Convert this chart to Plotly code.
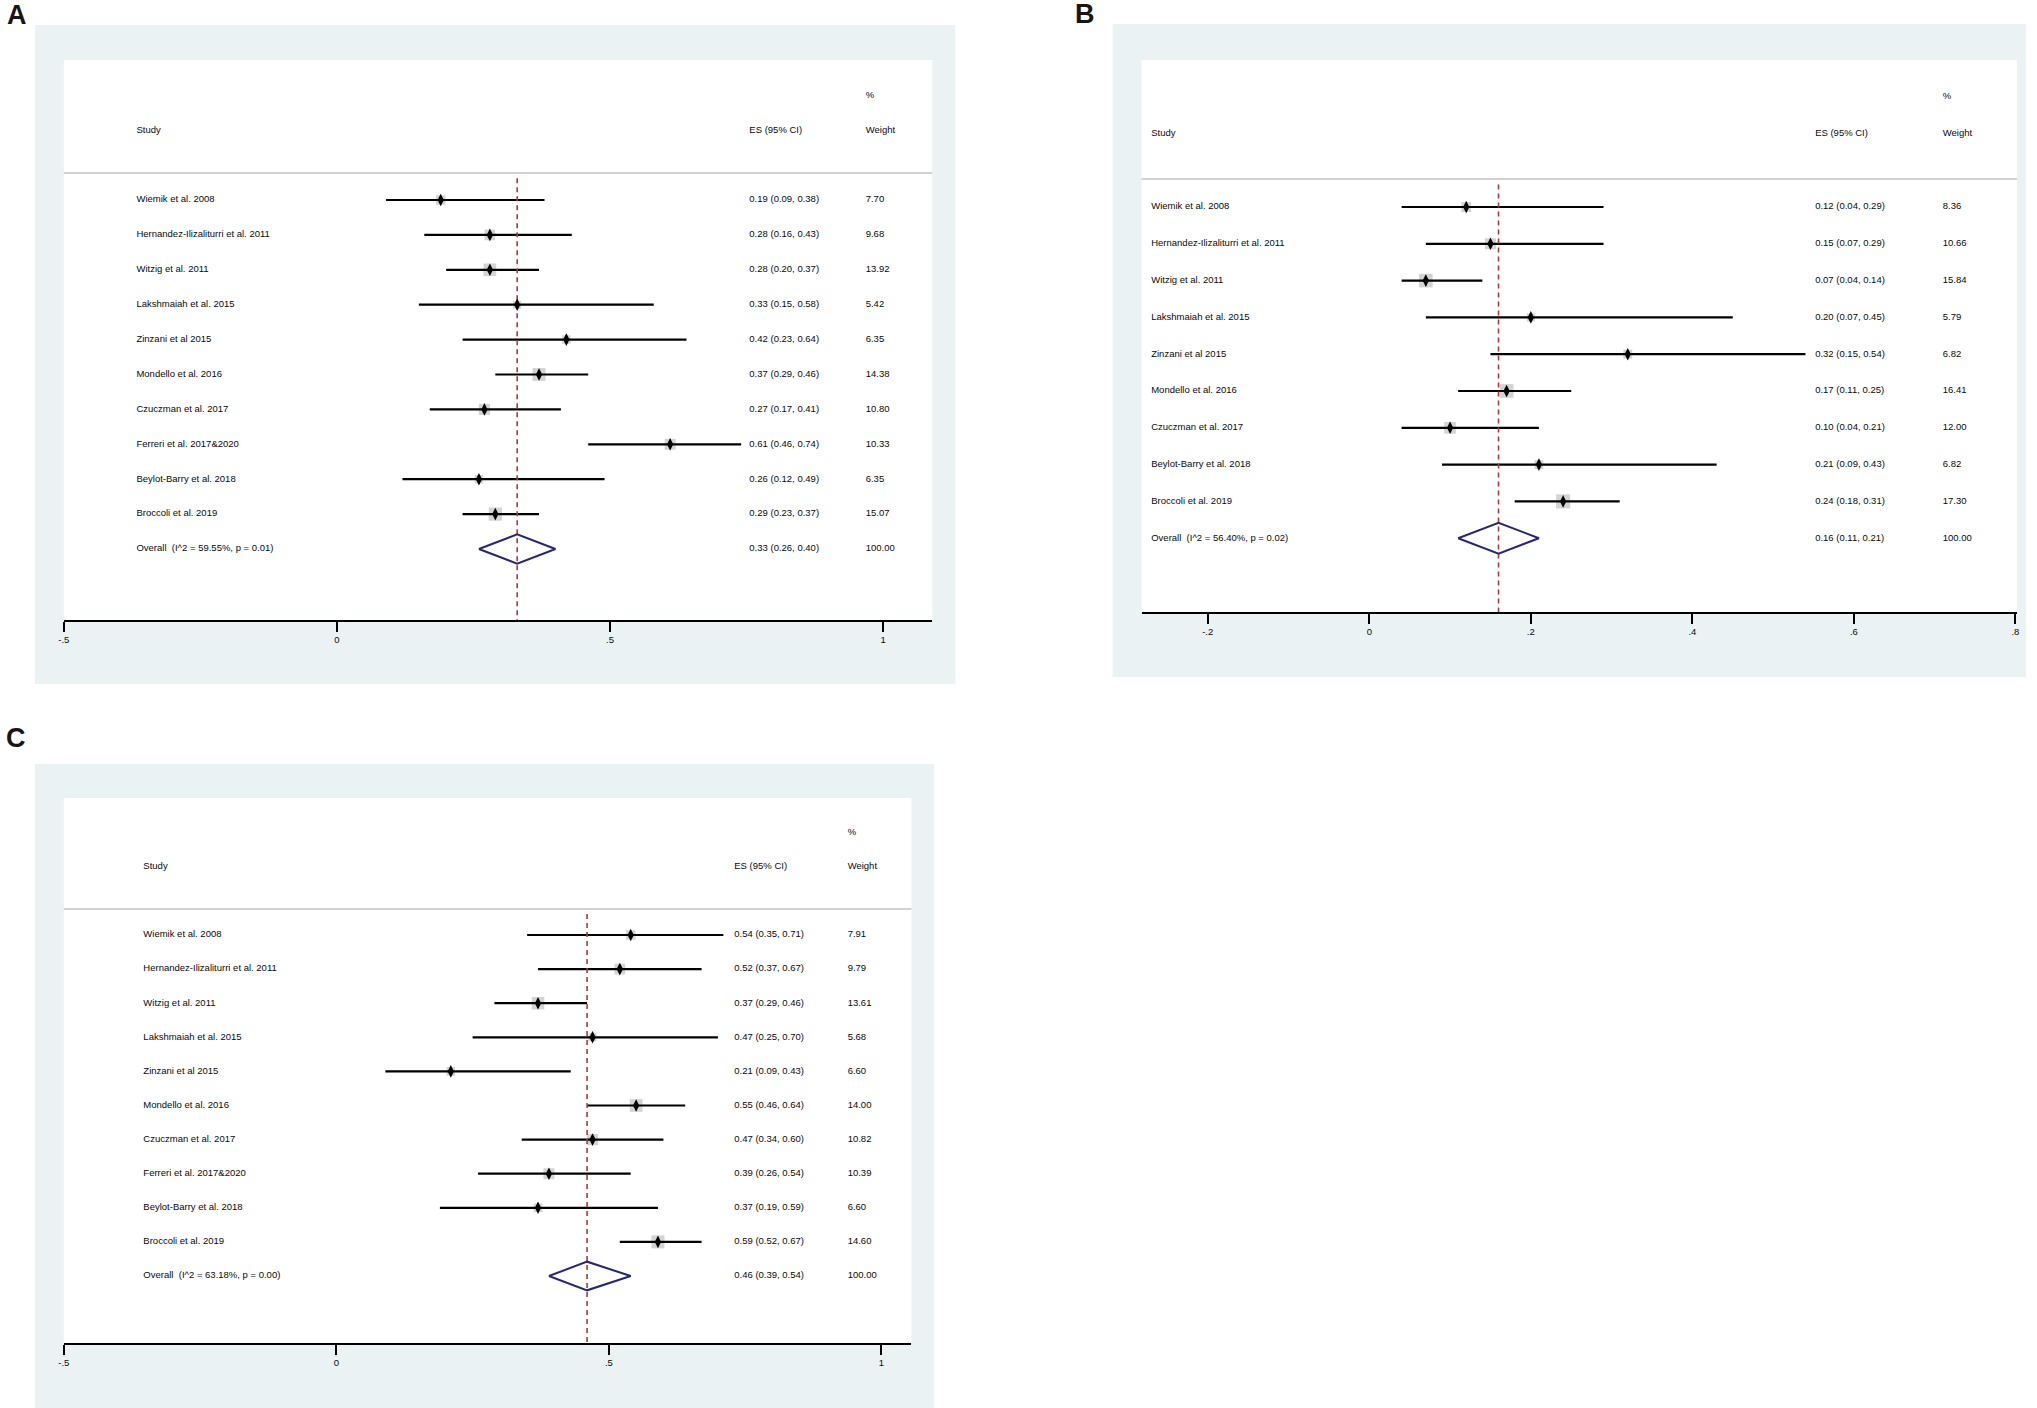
import numpy as np
import plotly.graph_objects as go

W, H = 2037, 1408
FONT = "Liberation Sans, Arial, sans-serif"

# ---- data ----
studies_10 = [
    "Wiemik et al. 2008", "Hernandez-Ilizaliturri et al. 2011", "Witzig et al. 2011",
    "Lakshmaiah et al. 2015", "Zinzani et al 2015", "Mondello et al. 2016",
    "Czuczman et al. 2017", "Ferreri et al. 2017&2020", "Beylot-Barry et al. 2018",
    "Broccoli et al. 2019",
]
studies_9 = [s for s in studies_10 if not s.startswith("Ferreri")]

a_es = [0.19, 0.28, 0.28, 0.33, 0.42, 0.37, 0.27, 0.61, 0.26, 0.29]
a_lo = [0.09, 0.16, 0.20, 0.15, 0.23, 0.29, 0.17, 0.46, 0.12, 0.23]
a_hi = [0.38, 0.43, 0.37, 0.58, 0.64, 0.46, 0.41, 0.74, 0.49, 0.37]
a_weight = [7.70, 9.68, 13.92, 5.42, 6.35, 14.38, 10.80, 10.33, 6.35, 15.07]
a_overall = [0.33, 0.26, 0.40]   # es, lo, hi
a_het = [59.55, 0.01]            # I^2, p

b_es = [0.12, 0.15, 0.07, 0.20, 0.32, 0.17, 0.10, 0.21, 0.24]
b_lo = [0.04, 0.07, 0.04, 0.07, 0.15, 0.11, 0.04, 0.09, 0.18]
b_hi = [0.29, 0.29, 0.14, 0.45, 0.54, 0.25, 0.21, 0.43, 0.31]
b_weight = [8.36, 10.66, 15.84, 5.79, 6.82, 16.41, 12.00, 6.82, 17.30]
b_overall = [0.16, 0.11, 0.21]
b_het = [56.40, 0.02]

c_es = [0.54, 0.52, 0.37, 0.47, 0.21, 0.55, 0.47, 0.39, 0.37, 0.59]
c_lo = [0.35, 0.37, 0.29, 0.25, 0.09, 0.46, 0.34, 0.26, 0.19, 0.52]
c_hi = [0.71, 0.67, 0.46, 0.70, 0.43, 0.64, 0.60, 0.54, 0.59, 0.67]
c_weight = [7.91, 9.79, 13.61, 5.68, 6.60, 14.00, 10.82, 10.39, 6.60, 14.60]
c_overall = [0.46, 0.39, 0.54]
c_het = [63.18, 0.00]

ticks_ac = [-0.5, 0, 0.5, 1]
ticklabels_ac = ["-.5", "0", ".5", "1"]
ticks_b = [-0.2, 0, 0.2, 0.4, 0.6, 0.8]
ticklabels_b = ["-.2", "0", ".2", ".4", ".6", ".8"]

# ---- pixel geometry of each panel (graph box, plot box, rows) ----
panels = [
    dict(label="A", label_xy=(11, 15), bg=(29, 25, 953, 684), plot=(58, 60, 930, 620),
         first_row=200, row_step=34.9, pct_y=96, head_y=131, sep_y=173,
         xrange=(-0.5, 1.09), cols=(-0.367, 0.755, 0.968),
         studies=studies_10, es=a_es, lo=a_lo, hi=a_hi, weight=a_weight,
         overall=a_overall, het=a_het, ticks=ticks_ac, ticklabels=ticklabels_ac),
    dict(label="B", label_xy=(1083, 14), bg=(1111, 24, 2028, 677), plot=(1140, 60, 2019, 612),
         first_row=207, row_step=36.8, pct_y=97, head_y=134, sep_y=179,
         xrange=(-0.282, 0.802), cols=(-0.27, 0.552, 0.71),
         studies=studies_9, es=b_es, lo=b_lo, hi=b_hi, weight=b_weight,
         overall=b_overall, het=b_het, ticks=ticks_b, ticklabels=ticklabels_b),
    dict(label="C", label_xy=(10, 738), bg=(29, 764, 932, 1408), plot=(58, 798, 909, 1343),
         first_row=935, row_step=34.1, pct_y=833, head_y=867, sep_y=909,
         xrange=(-0.5, 1.055), cols=(-0.354, 0.73, 0.938),
         studies=studies_10, es=c_es, lo=c_lo, hi=c_hi, weight=c_weight,
         overall=c_overall, het=c_het, ticks=ticks_ac, ticklabels=ticklabels_ac),
]

fig = go.Figure()
shapes = []
annotations = []


def to_row(p, y_px):
    return (y_px - p["first_row"]) / p["row_step"]


for i, p in enumerate(panels, start=1):
    xa = "x" if i == 1 else f"x{i}"
    ya = "y" if i == 1 else f"y{i}"
    n = len(p["studies"])
    rows = list(range(n))
    ov_es, ov_lo, ov_hi = p["overall"]
    left, top, right, bottom = p["plot"]

    # graph region (light blue) and plot region (white)
    bl, bt, br, bb = p["bg"]
    shapes.append(dict(type="rect", xref="paper", yref="paper", layer="below",
                       x0=bl / W, x1=br / W, y0=1 - bb / H, y1=1 - bt / H,
                       fillcolor="#eaf2f3", line=dict(width=0)))
    shapes.append(dict(type="rect", xref="paper", yref="paper", layer="below",
                       x0=left / W, x1=right / W, y0=1 - bottom / H, y1=1 - top / H,
                       fillcolor="white", line=dict(width=0)))

    sep = to_row(p, p["sep_y"])
    shapes.append(dict(type="line", xref=f"{xa} domain", yref=ya, x0=0, x1=1, y0=sep, y1=sep,
                       line=dict(color="#d2d2d2", width=2)))

    # weight boxes
    fig.add_trace(go.Scatter(
        x=p["es"], y=rows, mode="markers", xaxis=xa, yaxis=ya, hoverinfo="skip",
        marker=dict(symbol="square", color="#c2c2c2",
                    size=[3.4 * np.sqrt(w) for w in p["weight"]], line=dict(width=0))))

    # confidence intervals
    ci_x, ci_y = [], []
    for lo, hi, r in zip(p["lo"], p["hi"], rows):
        ci_x += [lo, hi, None]
        ci_y += [r, r, None]
    fig.add_trace(go.Scatter(x=ci_x, y=ci_y, mode="lines", xaxis=xa, yaxis=ya,
                             line=dict(color="black", width=2.2), hoverinfo="skip"))

    # reference line at overall estimate
    fig.add_trace(go.Scatter(
        x=[ov_es, ov_es], y=[sep + 0.15, to_row(p, bottom)], mode="lines", xaxis=xa, yaxis=ya,
        line=dict(color="#ab3a3c", width=1.6, dash="5px,4px"), hoverinfo="skip"))

    # point estimates
    fig.add_trace(go.Scatter(x=p["es"], y=rows, mode="markers", xaxis=xa, yaxis=ya,
                             marker=dict(symbol="diamond-tall", color="black", size=9),
                             hoverinfo="skip"))

    # pooled diamond
    h = 0.42
    fig.add_trace(go.Scatter(
        x=[ov_lo, ov_es, ov_hi, ov_es, ov_lo], y=[n, n - h, n, n + h, n],
        mode="lines", xaxis=xa, yaxis=ya, line=dict(color="#25287a", width=2),
        hoverinfo="skip"))

    # text columns
    i2, pval = p["het"]
    labels = p["studies"] + [f"Overall  (I^2 = {i2:.2f}%, p = {pval:.2f})"]
    es_text = [f"{e:.2f} ({l:.2f}, {u:.2f})" for e, l, u in zip(p["es"], p["lo"], p["hi"])]
    es_text.append(f"{ov_es:.2f} ({ov_lo:.2f}, {ov_hi:.2f})")
    w_text = [f"{w:.2f}" for w in p["weight"]] + ["100.00"]
    head = to_row(p, p["head_y"])
    pct = to_row(p, p["pct_y"])
    for col, txt, hdr in zip(p["cols"], [labels, es_text, w_text], ["Study", "ES (95% CI)", "Weight"]):
        fig.add_trace(go.Scatter(
            x=[col] * (len(txt) + 1), y=[head] + rows + [n], text=[hdr] + txt,
            mode="text", textposition="middle right", xaxis=xa, yaxis=ya, hoverinfo="skip",
            textfont=dict(family=FONT, size=9.5, color="#0a0a0a")))
    fig.add_trace(go.Scatter(
        x=[p["cols"][2]], y=[pct], text=["%"], mode="text", textposition="middle right",
        xaxis=xa, yaxis=ya, hoverinfo="skip",
        textfont=dict(family=FONT, size=9.5, color="#0a0a0a")))

    annotations.append(dict(
        text=f"<b>{p['label']}</b>", xref="paper", yref="paper",
        x=p["label_xy"][0] / W, y=1 - p["label_xy"][1] / H, xanchor="center", yanchor="middle",
        showarrow=False, font=dict(family="Liberation Sans, Arial", size=27, color="#1a1414")))

    fig.update_layout(**{
        ("xaxis" if i == 1 else f"xaxis{i}"): dict(
            domain=[left / W, right / W], range=list(p["xrange"]), anchor=ya,
            showgrid=False, zeroline=False, showline=True, linecolor="black", linewidth=2,
            ticks="outside", ticklen=10, tickwidth=2, tickcolor="black",
            tickvals=p["ticks"], ticktext=p["ticklabels"],
            tickfont=dict(family=FONT, size=9.5, color="#0a0a0a")),
        ("yaxis" if i == 1 else f"yaxis{i}"): dict(
            domain=[1 - bottom / H, 1 - top / H], anchor=xa,
            range=[to_row(p, bottom), to_row(p, top)], visible=False),
    })

fig.update_layout(
    width=W, height=H, margin=dict(l=0, r=0, t=0, b=0, pad=0),
    paper_bgcolor="white", plot_bgcolor="rgba(0,0,0,0)",
    showlegend=False, shapes=shapes, annotations=annotations,
)

fig.write_html("out.html", config={"displayModeBar": False},
               post_script="document.body.style.margin='0';")
